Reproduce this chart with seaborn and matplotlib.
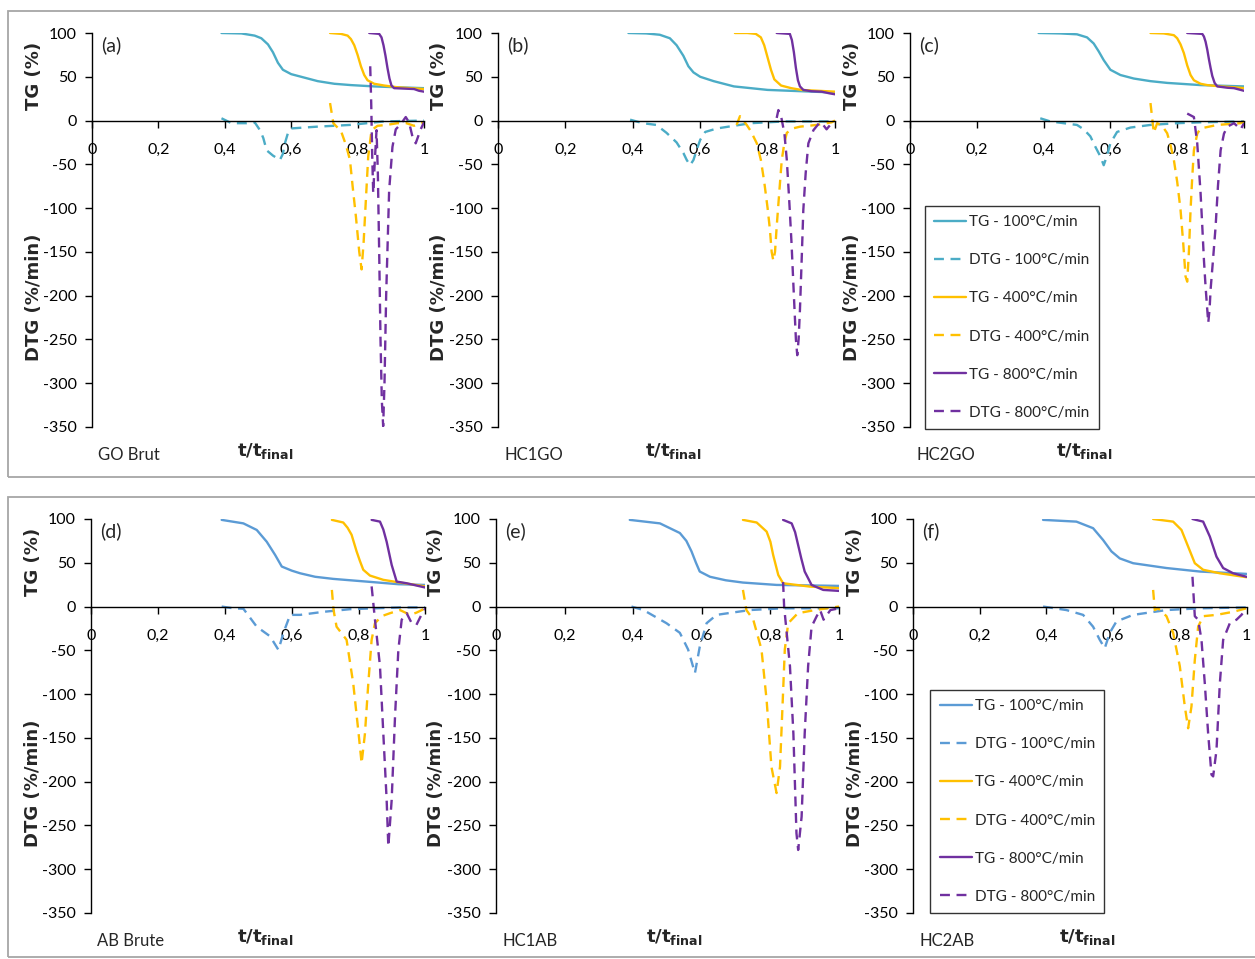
import matplotlib
matplotlib.use("Agg")
import matplotlib.pyplot as plt
import seaborn as sns
from matplotlib.patches import Rectangle

# ---------------- data ----------------
x_ticks = [0, 0.2, 0.4, 0.6, 0.8, 1.0]
x_ticklabels = ["0", "0,2", "0,4", "0,6", "0,8", "1"]
y_ticks = [100, 50, 0, -50, -100, -150, -200, -250, -300, -350]
series_labels = ["TG - 100°C/min", "DTG - 100°C/min", "TG - 400°C/min",
                 "DTG - 400°C/min", "TG - 800°C/min", "DTG - 800°C/min"]
panel_letters = ["(a)", "(b)", "(c)", "(d)", "(e)", "(f)"]
sample_names = ["GO Brut", "HC1GO", "HC2GO", "AB Brute", "HC1AB", "HC2AB"]

# (a) GO Brut
a_tg100_x = [0.39, 0.45, 0.49, 0.51, 0.53, 0.545, 0.56, 0.575, 0.60, 0.63, 0.68, 0.73, 0.78, 0.85, 0.92, 1.0]
a_tg100_y = [100, 99.5, 97, 94, 87, 78, 66, 58, 53, 50, 45, 42, 40.5, 39, 38, 37]
a_dtg100_x = [0.39, 0.42, 0.466, 0.49, 0.506, 0.516, 0.526, 0.545, 0.566, 0.575, 0.581, 0.59, 0.60, 0.677, 0.777, 0.88, 1.0]
a_dtg100_y = [2.6, -3, -3, -2, -11, -20, -34, -40, -45, -38, -26, -14.5, -9, -7, -5, -1, 0]
a_tg400_x = [0.717, 0.75, 0.77, 0.78, 0.79, 0.80, 0.81, 0.82, 0.83, 0.85, 0.88, 0.92, 0.96, 1.0]
a_tg400_y = [100, 99, 97, 93, 86, 75, 62, 52, 46, 42, 40, 38, 37, 36]
a_dtg400_x = [0.717, 0.727, 0.737, 0.75, 0.765, 0.777, 0.785, 0.795, 0.805, 0.812, 0.818, 0.825, 0.832, 0.842, 0.86, 0.887, 0.92, 0.947, 0.97, 1.0]
a_dtg400_y = [20, -3, -7, -12, -28, -45, -75, -110, -150, -170, -140, -90, -41, -11, -6, -5, -3, -3, -6, -2]
a_tg800_x = [0.835, 0.865, 0.872, 0.878, 0.884, 0.89, 0.896, 0.902, 0.91, 0.94, 0.97, 0.985, 1.0]
a_tg800_y = [100, 99, 95, 86, 74, 60, 48, 40, 37, 36.5, 36, 34, 33]
a_dtg800_x = [0.838, 0.841, 0.844, 0.847, 0.852, 0.857, 0.861, 0.865, 0.869, 0.873, 0.877, 0.881, 0.886, 0.895, 0.905, 0.915, 0.93, 0.945, 0.955, 0.965, 0.975, 0.99, 1.0]
a_dtg800_y = [62, 20, -40, -83, -45, -11, -60, -150, -250, -320, -349, -300, -200, -80, -30, -10, -4, 4, -2, -18, -26, -10, -2]

# (b) HC1GO
b_tg100_x = [0.387, 0.44, 0.48, 0.51, 0.53, 0.55, 0.565, 0.58, 0.60, 0.64, 0.70, 0.80, 0.90, 1.0]
b_tg100_y = [100, 99.5, 98, 94, 86, 74, 62, 55, 50, 45, 39, 35, 33.5, 32]
b_dtg100_x = [0.392, 0.43, 0.47, 0.50, 0.53, 0.55, 0.56, 0.57, 0.58, 0.59, 0.60, 0.615, 0.65, 0.70, 0.75, 0.85, 1.0]
b_dtg100_y = [1, -3, -5, -14, -25, -37, -45, -51, -45, -33, -22, -13, -9, -6, -3, -1, -1]
b_tg400_x = [0.703, 0.74, 0.765, 0.78, 0.79, 0.80, 0.81, 0.82, 0.84, 0.87, 0.90, 0.95, 1.0]
b_tg400_y = [100, 100, 99, 95, 86, 72, 58, 47, 40, 37, 35, 34, 33]
b_dtg400_x = [0.708, 0.718, 0.728, 0.738, 0.75, 0.768, 0.78, 0.79, 0.80, 0.807, 0.812, 0.817, 0.822, 0.827, 0.835, 0.842, 0.85, 0.857, 0.875, 0.896, 0.946, 0.99, 1.0]
b_dtg400_y = [-5, 5, 0, -5, -12, -26, -45, -70, -100, -125, -150, -160, -150, -121, -80, -45, -25, -14, -9, -7, -5, -2, 0]
b_tg800_x = [0.827, 0.866, 0.872, 0.878, 0.884, 0.89, 0.896, 0.906, 0.93, 0.96, 0.985, 1.0]
b_tg800_y = [100, 99, 92, 78, 60, 46, 39, 35, 33.5, 33, 31, 30]
b_dtg800_x = [0.827, 0.832, 0.84, 0.85, 0.857, 0.864, 0.871, 0.878, 0.884, 0.888, 0.892, 0.896, 0.901, 0.906, 0.913, 0.921, 0.936, 0.955, 0.965, 0.975, 0.99, 1.0]
b_dtg800_y = [3, 12, 5, -15, -45, -90, -140, -200, -250, -268, -250, -216, -160, -102, -60, -26, -11, -2, -5, -10, -3, -1]

# (c) HC2GO
c_tg100_x = [0.385, 0.45, 0.50, 0.53, 0.55, 0.565, 0.58, 0.60, 0.63, 0.67, 0.72, 0.77, 0.87, 1.0]
c_tg100_y = [100, 99.5, 98.5, 95, 88, 79, 69, 58, 52, 48, 45, 43, 40.5, 39]
c_dtg100_x = [0.39, 0.42, 0.46, 0.50, 0.52, 0.54, 0.555, 0.57, 0.58, 0.59, 0.60, 0.62, 0.66, 0.72, 0.80, 0.87, 1.0]
c_dtg100_y = [2.6, -1, -3, -5, -10, -18, -30, -41, -51, -40, -26, -13, -8, -5, -3, -2, -1]
c_tg400_x = [0.72, 0.76, 0.79, 0.80, 0.81, 0.82, 0.83, 0.84, 0.85, 0.87, 0.89, 0.93, 0.97, 1.0]
c_tg400_y = [100, 99.5, 97.5, 94, 87, 77, 63, 52, 46, 42, 40.5, 39, 38, 37]
c_dtg400_x = [0.72, 0.725, 0.73, 0.74, 0.755, 0.77, 0.78, 0.79, 0.80, 0.81, 0.818, 0.825, 0.83, 0.835, 0.84, 0.845, 0.85, 0.86, 0.87, 0.92, 0.99, 1.0]
c_dtg400_y = [20, 3, -14, -3, -6, -14.5, -28, -45, -70, -102, -140, -178, -184, -150, -102, -65, -34, -15, -9, -5, -3, -1]
c_tg800_x = [0.83, 0.875, 0.88, 0.885, 0.89, 0.895, 0.90, 0.905, 0.912, 0.92, 0.95, 0.97, 0.99, 1.0]
c_tg800_y = [100, 99, 96, 90, 81, 70, 60, 51, 43, 39, 37.5, 37, 35, 34]
c_dtg800_x = [0.83, 0.84, 0.85, 0.86, 0.87, 0.875, 0.88, 0.885, 0.89, 0.893, 0.897, 0.90, 0.907, 0.915, 0.922, 0.93, 0.94, 0.95, 0.97, 0.99, 1.0]
c_dtg800_y = [8, 6, 4, -26, -83, -120, -159, -190, -216, -231, -215, -193, -160, -121, -75, -34, -15, -7, -3, -10, -3]

# (d) AB Brute
d_tg100_x = [0.39, 0.455, 0.495, 0.525, 0.55, 0.57, 0.60, 0.625, 0.67, 0.724, 0.824, 0.92, 1.0]
d_tg100_y = [99, 95, 87.5, 74, 59, 45.7, 41, 38, 34, 31.6, 28.5, 25.5, 24.7]
d_dtg100_x = [0.39, 0.425, 0.455, 0.495, 0.535, 0.56, 0.575, 0.595, 0.625, 0.695, 0.775, 0.925, 1.0]
d_dtg100_y = [0, -2, -2.5, -23, -34, -49.5, -30, -9.5, -9.5, -6, -3, -1, -1]
d_tg400_x = [0.72, 0.754, 0.767, 0.779, 0.794, 0.804, 0.814, 0.834, 0.874, 0.924, 1.0]
d_tg400_y = [99, 96, 90, 82, 63, 52, 42, 35.4, 30.5, 27.4, 23]
d_dtg400_x = [0.72, 0.725, 0.734, 0.764, 0.784, 0.80, 0.809, 0.819, 0.829, 0.839, 0.849, 0.869, 0.894, 0.924, 0.954, 0.973, 1.0]
d_dtg400_y = [19, -4, -23, -38, -88, -145, -179, -145, -88, -38, -19, -11, -7.6, -4, -9.5, -7, -2]
d_tg800_x = [0.839, 0.864, 0.874, 0.884, 0.899, 0.914, 0.944, 1.0]
d_tg800_y = [99, 97, 88, 74, 47.6, 28.5, 26.6, 21.7]
d_dtg800_x = [0.839, 0.849, 0.864, 0.874, 0.884, 0.889, 0.899, 0.909, 0.919, 0.929, 0.944, 0.959, 0.973, 0.988, 1.0]
d_dtg800_y = [23, -15, -68, -145, -221, -274, -221, -126, -49.5, -15, -7.6, -19, -21, -9.5, -2]

# (e) HC1AB
e_tg100_x = [0.39, 0.478, 0.536, 0.555, 0.57, 0.583, 0.594, 0.624, 0.67, 0.72, 0.818, 1.0]
e_tg100_y = [99, 95, 84, 75, 63, 50, 40, 34, 30, 27.4, 24.7, 23.6]
e_dtg100_x = [0.395, 0.43, 0.497, 0.536, 0.56, 0.58, 0.594, 0.614, 0.643, 0.74, 0.837, 1.0]
e_dtg100_y = [0, -4, -19, -30, -49, -76, -46, -19, -9.5, -4, -2, -2]
e_tg400_x = [0.72, 0.76, 0.789, 0.80, 0.808, 0.823, 0.837, 0.915, 1.0]
e_tg400_y = [99, 96, 85.6, 74, 59, 36, 26.6, 22.8, 21]
e_dtg400_x = [0.72, 0.73, 0.75, 0.774, 0.789, 0.803, 0.818, 0.828, 0.836, 0.842, 0.852, 0.88, 0.93, 1.0]
e_dtg400_y = [19, -4, -15, -49, -107, -183, -213, -183, -107, -49, -19, -7.6, -4, 0]
e_tg800_x = [0.837, 0.862, 0.872, 0.881, 0.89, 0.90, 0.92, 0.954, 1.0]
e_tg800_y = [99, 95, 85, 70, 55, 40, 24.7, 19, 17.9]
e_dtg800_x = [0.837, 0.84, 0.857, 0.867, 0.876, 0.881, 0.891, 0.90, 0.91, 0.92, 0.935, 0.945, 0.955, 0.975, 1.0]
e_dtg800_y = [28, 0, -68, -145, -259, -278, -240, -145, -68, -23, -11, -4, -15, -4, -2]

# (f) HC2AB
f_tg100_x = [0.39, 0.49, 0.54, 0.57, 0.595, 0.62, 0.66, 0.76, 0.86, 1.0]
f_tg100_y = [99, 97, 89.5, 76, 63, 55, 49.5, 44, 40, 37.3]
f_dtg100_x = [0.39, 0.46, 0.51, 0.54, 0.56, 0.575, 0.59, 0.61, 0.66, 0.76, 0.86, 1.0]
f_dtg100_y = [0, -4, -9.5, -23, -38, -47.6, -30, -17, -9.5, -4, -2, -1]
f_tg400_x = [0.72, 0.78, 0.805, 0.825, 0.845, 0.87, 0.92, 1.0]
f_tg400_y = [100, 97, 87.5, 68.5, 49.5, 42, 38, 33.5]
f_dtg400_x = [0.72, 0.725, 0.735, 0.76, 0.78, 0.80, 0.815, 0.825, 0.835, 0.845, 0.855, 0.87, 0.91, 0.96, 1.0]
f_dtg400_y = [19, -4, -2, -11, -30, -68, -114, -139, -114, -61, -23, -11, -9.5, -6, -2]
f_tg800_x = [0.838, 0.87, 0.89, 0.91, 0.93, 0.96, 1.0]
f_tg800_y = [100, 97, 80, 57, 44, 38, 34]
f_dtg800_x = [0.838, 0.845, 0.855, 0.865, 0.875, 0.885, 0.895, 0.90, 0.91, 0.92, 0.93, 0.95, 0.97, 0.985, 1.0]
f_dtg800_y = [34, -11, -15, -38, -88, -145, -192, -194, -164, -88, -38, -19, -15, -9.5, -2]

panels_data = [
    [(a_tg100_x, a_tg100_y), (a_dtg100_x, a_dtg100_y), (a_tg400_x, a_tg400_y),
     (a_dtg400_x, a_dtg400_y), (a_tg800_x, a_tg800_y), (a_dtg800_x, a_dtg800_y)],
    [(b_tg100_x, b_tg100_y), (b_dtg100_x, b_dtg100_y), (b_tg400_x, b_tg400_y),
     (b_dtg400_x, b_dtg400_y), (b_tg800_x, b_tg800_y), (b_dtg800_x, b_dtg800_y)],
    [(c_tg100_x, c_tg100_y), (c_dtg100_x, c_dtg100_y), (c_tg400_x, c_tg400_y),
     (c_dtg400_x, c_dtg400_y), (c_tg800_x, c_tg800_y), (c_dtg800_x, c_dtg800_y)],
    [(d_tg100_x, d_tg100_y), (d_dtg100_x, d_dtg100_y), (d_tg400_x, d_tg400_y),
     (d_dtg400_x, d_dtg400_y), (d_tg800_x, d_tg800_y), (d_dtg800_x, d_dtg800_y)],
    [(e_tg100_x, e_tg100_y), (e_dtg100_x, e_dtg100_y), (e_tg400_x, e_tg400_y),
     (e_dtg400_x, e_dtg400_y), (e_tg800_x, e_tg800_y), (e_dtg800_x, e_dtg800_y)],
    [(f_tg100_x, f_tg100_y), (f_dtg100_x, f_dtg100_y), (f_tg400_x, f_tg400_y),
     (f_dtg400_x, f_dtg400_y), (f_tg800_x, f_tg800_y), (f_dtg800_x, f_dtg800_y)],
]

# ---------------- style ----------------
sns.set_style("white")
plt.rcParams['font.family'] = ['Lato', 'DejaVu Sans']
plt.rcParams['axes.unicode_minus'] = False

W, H = 1255, 959
fig = plt.figure(figsize=(W / 100, H / 100), dpi=100)
fig.patch.set_facecolor('white')

# outer frames of the two rows
for (l, t, r, b) in [(8, 11, 1262, 477), (8, 497, 1262, 957)]:
    fig.patches.append(Rectangle((l / W, 1 - b / H), (r - l) / W, (b - t) / H,
                                 transform=fig.transFigure, fill=False,
                                 edgecolor='#a6a6a6', linewidth=1.3))

boxes = [(92, 33, 424, 427), (498, 33, 835, 427), (910, 33, 1244, 427),
         (91.4, 519, 425.4, 913), (496, 519, 839, 913), (913, 519, 1246.5, 913)]

blue_top = '#4BACC6'
blue_bot = '#5B9BD5'
yellow = '#FFC000'
purple = '#7030A0'
dash = (0, (4.2, 2.8))

for i, (l, t, r, b) in enumerate(boxes):
    ax = fig.add_axes([l / W, 1 - b / H, (r - l) / W, (b - t) / H])
    ax.set_facecolor('none')
    blue = blue_top if i < 3 else blue_bot
    colors = [blue, blue, yellow, yellow, purple, purple]
    styles = ['-', dash, '-', dash, '-', dash]
    handles = []
    for k, (xs, ys) in enumerate(panels_data[i]):
        sns.lineplot(x=xs, y=ys, ax=ax, color=colors[k], linestyle=styles[k],
                     linewidth=1.7, estimator=None, sort=False)
        handles.append(ax.get_lines()[-1])
    ax.set_xlim(0, 1)
    ax.set_ylim(-350, 100)
    ax.set_xticks(x_ticks)
    ax.set_xticklabels(x_ticklabels)
    ax.set_yticks(y_ticks)
    ax.set_yticklabels([str(v) for v in y_ticks])
    ax.set_xlabel('')
    ax.set_ylabel('')
    for s in ['top', 'right']:
        ax.spines[s].set_visible(False)
    ax.spines['bottom'].set_position(('data', 0))
    ax.spines['bottom'].set_color('black')
    ax.spines['left'].set_color('black')
    ax.spines['bottom'].set_linewidth(1.0)
    ax.spines['left'].set_linewidth(1.0)
    ax.tick_params(axis='x', direction='out', length=5, width=1, pad=11,
                   labelsize=11.5, colors='black')
    ax.tick_params(axis='y', direction='out', length=5, width=1, pad=6,
                   labelsize=11.5, colors='black')
    ax.tick_params(left=True, bottom=True)

    ax.text(0.027, 0.97, panel_letters[i], transform=ax.transAxes,
            fontsize=14, ha='left', va='center')
    ax.text(-0.175, 0.89, 'TG (%)', transform=ax.transAxes, rotation=90,
            fontsize=13, fontweight='bold', family='DejaVu Sans',
            ha='center', va='center')
    ax.text(-0.175, 0.33, 'DTG (%/min)', transform=ax.transAxes, rotation=90,
            fontsize=13, fontweight='bold', family='DejaVu Sans',
            ha='center', va='center')
    ax.text(0.018, -0.072, sample_names[i], transform=ax.transAxes,
            fontsize=12, ha='left', va='center')
    ax.text(0.437, -0.06, r'$\mathbf{t/t}_{\mathbf{final}}$', transform=ax.transAxes,
            fontsize=13, ha='left', va='center')

    if i in (2, 5):
        anchor = (0.045, -0.005) if i == 2 else (0.052, 0.0)
        leg = ax.legend(handles, series_labels, loc='lower left',
                        bbox_to_anchor=anchor, frameon=True, fancybox=False,
                        fontsize=11, handlelength=2.1, handletextpad=0.2,
                        labelspacing=1.58, borderpad=0.6, borderaxespad=0.0)
        leg.get_frame().set_edgecolor('black')
        leg.get_frame().set_linewidth(1.0)
    else:
        lg = ax.get_legend()
        if lg is not None:
            lg.remove()

fig.savefig('out.png', dpi=100, facecolor='white')
